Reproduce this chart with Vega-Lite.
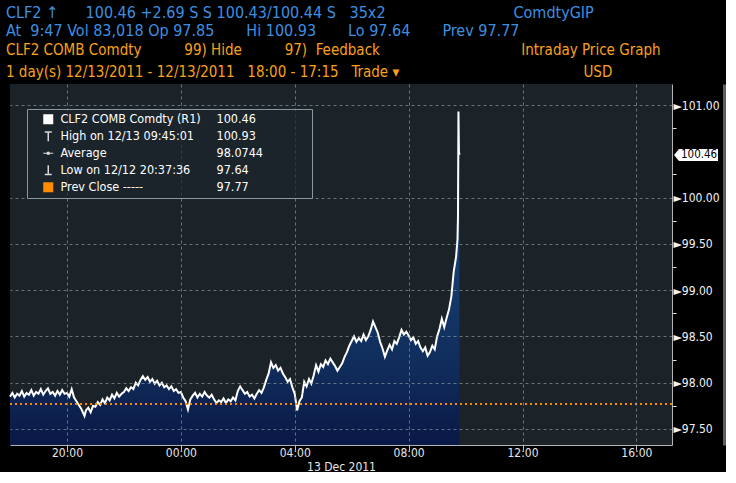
{
"$schema":"https://vega.github.io/schema/vega-lite/v6.json",
"background":"#000000",
"padding":{"left":0,"top":5,"right":0,"bottom":0},
"spacing":0,
"title":{
 "text":["CLF2 ↑\u00a0\u00a0\u00a0\u00a0\u00a0\u00a0100.46 +2.69 S S 100.43/100.44 S\u00a0\u00a0\u00a035x2\u00a0\u00a0\u00a0\u00a0\u00a0\u00a0\u00a0\u00a0\u00a0\u00a0\u00a0\u00a0\u00a0\u00a0\u00a0\u00a0\u00a0\u00a0\u00a0\u00a0\u00a0\u00a0\u00a0\u00a0\u00a0\u00a0\u00a0\u00a0ComdtyGIP","At\u00a0\u00a09:47 Vol 83,018 Op 97.85\u00a0\u00a0\u00a0\u00a0\u00a0\u00a0\u00a0Hi 100.93\u00a0\u00a0\u00a0\u00a0\u00a0\u00a0\u00a0Lo 97.64\u00a0\u00a0\u00a0\u00a0\u00a0\u00a0\u00a0Prev 97.77"],
 "subtitle":["CLF2 COMB Comdty\u00a0\u00a0\u00a0\u00a0\u00a0\u00a0\u00a0\u00a0\u00a0\u00a099) Hide\u00a0\u00a0\u00a0\u00a0\u00a0\u00a0\u00a0\u00a0\u00a0\u00a097)\u00a0\u00a0Feedback\u00a0\u00a0\u00a0\u00a0\u00a0\u00a0\u00a0\u00a0\u00a0\u00a0\u00a0\u00a0\u00a0\u00a0\u00a0\u00a0\u00a0\u00a0\u00a0\u00a0\u00a0\u00a0\u00a0\u00a0\u00a0\u00a0\u00a0\u00a0\u00a0\u00a0\u00a0\u00a0\u00a0Intraday Price Graph","\u00a0\u00a0\u00a0\u00a01 day(s) 12/13/2011 - 12/13/2011\u00a0\u00a0\u00a018:00 - 17:15\u00a0\u00a0\u00a0Trade ▾\u00a0\u00a0\u00a0\u00a0\u00a0\u00a0\u00a0\u00a0\u00a0\u00a0\u00a0\u00a0\u00a0\u00a0\u00a0\u00a0\u00a0\u00a0\u00a0\u00a0\u00a0\u00a0\u00a0\u00a0\u00a0\u00a0\u00a0\u00a0\u00a0\u00a0\u00a0\u00a0\u00a0\u00a0\u00a0\u00a0\u00a0\u00a0\u00a0\u00a0\u00a0\u00a0\u00a0USD"],
 "anchor":"start","dx":6,"color":"#3d8fe0","fontSize":16,"fontWeight":"normal","lineHeight":18,
 "subtitleColor":"#f9a11b","subtitleFontSize":15,"subtitleLineHeight":22,"subtitlePadding":4,"offset":4
},
"config":{"font":"Liberation Sans Narrow, DejaVu Sans Condensed, Roboto, sans-serif","view":{"stroke":null}},
"datasets":{
"px":[
{"t":"2011-12-12T18:00","p":97.85},{"t":"2011-12-12T18:05","p":97.89},{"t":"2011-12-12T18:10","p":97.84},{"t":"2011-12-12T18:15","p":97.88},{"t":"2011-12-12T18:20","p":97.86},{"t":"2011-12-12T18:25","p":97.91},{"t":"2011-12-12T18:30","p":97.85},{"t":"2011-12-12T18:35","p":97.89},{"t":"2011-12-12T18:40","p":97.87},{"t":"2011-12-12T18:45","p":97.92},{"t":"2011-12-12T18:50","p":97.86},{"t":"2011-12-12T18:55","p":97.90},
{"t":"2011-12-12T19:00","p":97.88},{"t":"2011-12-12T19:05","p":97.93},{"t":"2011-12-12T19:10","p":97.87},{"t":"2011-12-12T19:15","p":97.91},{"t":"2011-12-12T19:20","p":97.94},{"t":"2011-12-12T19:25","p":97.88},{"t":"2011-12-12T19:30","p":97.90},{"t":"2011-12-12T19:35","p":97.86},{"t":"2011-12-12T19:40","p":97.91},{"t":"2011-12-12T19:45","p":97.87},{"t":"2011-12-12T19:50","p":97.92},{"t":"2011-12-12T19:55","p":97.88},
{"t":"2011-12-12T20:00","p":97.89},{"t":"2011-12-12T20:05","p":97.85},{"t":"2011-12-12T20:10","p":97.93},{"t":"2011-12-12T20:15","p":97.84},{"t":"2011-12-12T20:20","p":97.80},{"t":"2011-12-12T20:25","p":97.76},{"t":"2011-12-12T20:30","p":97.72},{"t":"2011-12-12T20:37","p":97.64},{"t":"2011-12-12T20:40","p":97.70},{"t":"2011-12-12T20:45","p":97.73},{"t":"2011-12-12T20:50","p":97.68},{"t":"2011-12-12T20:55","p":97.75},
{"t":"2011-12-12T21:00","p":97.74},{"t":"2011-12-12T21:05","p":97.79},{"t":"2011-12-12T21:10","p":97.76},{"t":"2011-12-12T21:15","p":97.82},{"t":"2011-12-12T21:20","p":97.78},{"t":"2011-12-12T21:25","p":97.84},{"t":"2011-12-12T21:30","p":97.81},{"t":"2011-12-12T21:35","p":97.87},{"t":"2011-12-12T21:40","p":97.83},{"t":"2011-12-12T21:45","p":97.89},{"t":"2011-12-12T21:50","p":97.85},{"t":"2011-12-12T21:55","p":97.88},
{"t":"2011-12-12T22:00","p":97.90},{"t":"2011-12-12T22:05","p":97.94},{"t":"2011-12-12T22:10","p":97.91},{"t":"2011-12-12T22:15","p":97.95},{"t":"2011-12-12T22:20","p":97.93},{"t":"2011-12-12T22:25","p":98.00},{"t":"2011-12-12T22:30","p":97.97},{"t":"2011-12-12T22:35","p":98.03},{"t":"2011-12-12T22:40","p":98.07},{"t":"2011-12-12T22:45","p":98.03},{"t":"2011-12-12T22:50","p":98.06},{"t":"2011-12-12T22:55","p":98.01},
{"t":"2011-12-12T23:00","p":98.04},{"t":"2011-12-12T23:05","p":97.99},{"t":"2011-12-12T23:10","p":98.02},{"t":"2011-12-12T23:15","p":97.97},{"t":"2011-12-12T23:20","p":98.00},{"t":"2011-12-12T23:25","p":97.95},{"t":"2011-12-12T23:30","p":97.97},{"t":"2011-12-12T23:35","p":97.93},{"t":"2011-12-12T23:40","p":97.96},{"t":"2011-12-12T23:45","p":97.91},{"t":"2011-12-12T23:50","p":97.93},{"t":"2011-12-12T23:55","p":97.89},
{"t":"2011-12-13T00:00","p":97.90},{"t":"2011-12-13T00:05","p":97.84},{"t":"2011-12-13T00:10","p":97.80},{"t":"2011-12-13T00:15","p":97.71},{"t":"2011-12-13T00:20","p":97.82},{"t":"2011-12-13T00:25","p":97.86},{"t":"2011-12-13T00:30","p":97.89},{"t":"2011-12-13T00:35","p":97.84},{"t":"2011-12-13T00:40","p":97.88},{"t":"2011-12-13T00:45","p":97.85},{"t":"2011-12-13T00:50","p":97.90},{"t":"2011-12-13T00:55","p":97.86},
{"t":"2011-12-13T01:00","p":97.84},{"t":"2011-12-13T01:05","p":97.87},{"t":"2011-12-13T01:10","p":97.82},{"t":"2011-12-13T01:15","p":97.78},{"t":"2011-12-13T01:20","p":97.81},{"t":"2011-12-13T01:25","p":97.79},{"t":"2011-12-13T01:30","p":97.83},{"t":"2011-12-13T01:35","p":97.78},{"t":"2011-12-13T01:40","p":97.82},{"t":"2011-12-13T01:45","p":97.80},{"t":"2011-12-13T01:50","p":97.84},{"t":"2011-12-13T01:55","p":97.81},
{"t":"2011-12-13T02:00","p":97.91},{"t":"2011-12-13T02:05","p":97.96},{"t":"2011-12-13T02:10","p":97.92},{"t":"2011-12-13T02:15","p":97.88},{"t":"2011-12-13T02:20","p":97.90},{"t":"2011-12-13T02:25","p":97.85},{"t":"2011-12-13T02:30","p":97.87},{"t":"2011-12-13T02:35","p":97.83},{"t":"2011-12-13T02:40","p":97.88},{"t":"2011-12-13T02:45","p":97.92},{"t":"2011-12-13T02:50","p":97.89},{"t":"2011-12-13T02:55","p":97.95},
{"t":"2011-12-13T03:00","p":98.03},{"t":"2011-12-13T03:05","p":98.10},{"t":"2011-12-13T03:10","p":98.22},{"t":"2011-12-13T03:15","p":98.16},{"t":"2011-12-13T03:20","p":98.19},{"t":"2011-12-13T03:25","p":98.13},{"t":"2011-12-13T03:30","p":98.16},{"t":"2011-12-13T03:35","p":98.10},{"t":"2011-12-13T03:40","p":98.06},{"t":"2011-12-13T03:45","p":98.01},{"t":"2011-12-13T03:50","p":98.04},{"t":"2011-12-13T03:55","p":97.95},
{"t":"2011-12-13T04:00","p":97.88},{"t":"2011-12-13T04:05","p":97.70},{"t":"2011-12-13T04:10","p":97.80},{"t":"2011-12-13T04:15","p":97.84},{"t":"2011-12-13T04:20","p":98.01},{"t":"2011-12-13T04:25","p":97.96},{"t":"2011-12-13T04:30","p":98.04},{"t":"2011-12-13T04:35","p":97.99},{"t":"2011-12-13T04:40","p":98.08},{"t":"2011-12-13T04:45","p":98.19},{"t":"2011-12-13T04:50","p":98.12},{"t":"2011-12-13T04:55","p":98.20},
{"t":"2011-12-13T05:00","p":98.17},{"t":"2011-12-13T05:05","p":98.24},{"t":"2011-12-13T05:10","p":98.20},{"t":"2011-12-13T05:15","p":98.26},{"t":"2011-12-13T05:20","p":98.22},{"t":"2011-12-13T05:25","p":98.18},{"t":"2011-12-13T05:30","p":98.13},{"t":"2011-12-13T05:35","p":98.17},{"t":"2011-12-13T05:40","p":98.21},{"t":"2011-12-13T05:45","p":98.28},{"t":"2011-12-13T05:50","p":98.33},{"t":"2011-12-13T05:55","p":98.40},
{"t":"2011-12-13T06:00","p":98.45},{"t":"2011-12-13T06:05","p":98.50},{"t":"2011-12-13T06:10","p":98.44},{"t":"2011-12-13T06:15","p":98.48},{"t":"2011-12-13T06:20","p":98.45},{"t":"2011-12-13T06:25","p":98.52},{"t":"2011-12-13T06:30","p":98.46},{"t":"2011-12-13T06:35","p":98.50},{"t":"2011-12-13T06:40","p":98.57},{"t":"2011-12-13T06:45","p":98.66},{"t":"2011-12-13T06:50","p":98.60},{"t":"2011-12-13T06:55","p":98.54},
{"t":"2011-12-13T07:00","p":98.44},{"t":"2011-12-13T07:05","p":98.37},{"t":"2011-12-13T07:10","p":98.28},{"t":"2011-12-13T07:15","p":98.35},{"t":"2011-12-13T07:20","p":98.41},{"t":"2011-12-13T07:25","p":98.36},{"t":"2011-12-13T07:30","p":98.45},{"t":"2011-12-13T07:35","p":98.42},{"t":"2011-12-13T07:40","p":98.49},{"t":"2011-12-13T07:45","p":98.57},{"t":"2011-12-13T07:50","p":98.52},{"t":"2011-12-13T07:55","p":98.55},
{"t":"2011-12-13T08:00","p":98.51},{"t":"2011-12-13T08:05","p":98.46},{"t":"2011-12-13T08:10","p":98.49},{"t":"2011-12-13T08:15","p":98.42},{"t":"2011-12-13T08:20","p":98.45},{"t":"2011-12-13T08:25","p":98.38},{"t":"2011-12-13T08:30","p":98.34},{"t":"2011-12-13T08:35","p":98.38},{"t":"2011-12-13T08:40","p":98.29},{"t":"2011-12-13T08:45","p":98.33},{"t":"2011-12-13T08:50","p":98.40},{"t":"2011-12-13T08:55","p":98.36},
{"t":"2011-12-13T09:00","p":98.50},{"t":"2011-12-13T09:05","p":98.58},{"t":"2011-12-13T09:10","p":98.69},{"t":"2011-12-13T09:15","p":98.60},{"t":"2011-12-13T09:20","p":98.70},{"t":"2011-12-13T09:25","p":98.79},{"t":"2011-12-13T09:30","p":98.93},{"t":"2011-12-13T09:35","p":99.20},{"t":"2011-12-13T09:40","p":99.36},{"t":"2011-12-13T09:43","p":99.55},{"t":"2011-12-13T09:44","p":99.80},{"t":"2011-12-13T09:45","p":100.93},{"t":"2011-12-13T09:46","p":100.50},{"t":"2011-12-13T09:47","p":100.46}
],
"stats":[
{"n":"CLF2 COMB Comdty (R1)","lab":"100.46","v":100.46},
{"n":"High on 12/13 09:45:01","lab":"100.93","v":100.93},
{"n":"Average","lab":"98.0744","v":98.0744},
{"n":"Low on 12/12 20:37:36","lab":"97.64","v":97.64},
{"n":"Prev Close -----","lab":"97.77","v":97.77}
]
},
"vconcat":[
{
"width":662,"height":361,
"view":{"stroke":null,"fill":"#1b2328"},
"resolve":{"axis":{"y":"independent"}},
"layer":[
{"data":{"name":"px"},
 "mark":{"type":"area","color":{"gradient":"linear","x1":0,"y1":0,"x2":0,"y2":1,"stops":[{"offset":0,"color":"#22528a"},{"offset":0.55,"color":"#14386a"},{"offset":0.8,"color":"#0f2a58"},{"offset":1,"color":"#0a1846"}]}},
 "encoding":{
  "x":{"field":"t","type":"temporal",
   "scale":{"domain":[{"year":2011,"month":12,"date":12,"hours":18,"minutes":0},{"year":2011,"month":12,"date":13,"hours":17,"minutes":15}]},
   "axis":{"values":[{"year":2011,"month":12,"date":12,"hours":20},{"year":2011,"month":12,"date":13,"hours":0},{"year":2011,"month":12,"date":13,"hours":4},{"year":2011,"month":12,"date":13,"hours":8},{"year":2011,"month":12,"date":13,"hours":12},{"year":2011,"month":12,"date":13,"hours":16}],
    "format":"%H:%M",
    "labelColor":"#e6e6e6","labelFontSize":12,"labelPadding":-3,
    "tickSize":5,"tickColor":"#c8c8c8","domainColor":"#b4b4b4",
    "grid":true,"gridDash":[3,3],"gridColor":"#a0a8ac","gridOpacity":0.6,
    "title":"13 Dec 2011","titleColor":"#e6e6e6","titleFontSize":12,"titleFontWeight":"normal","titlePadding":3,"zindex":1}},
  "y":{"field":"p","type":"quantitative",
   "scale":{"domain":[97.327,101.227],"nice":false,"zero":false},
   "axis":{"orient":"right","values":[97.5,98,98.5,99,99.5,100,101],
    "labelExpr":"'►' + format(datum.value, '.2f')",
    "labelColor":"#f2f2f2","labelFontSize":12,"labelPadding":1,
    "tickSize":0,
    "domainColor":"#b4b4b4",
    "grid":true,"gridDash":[3,3],"gridColor":"#a0a8ac","gridOpacity":0.6,
    "title":null,"minExtent":50,"maxExtent":50,"zindex":1}},
  "y2":{"datum":97.327}
 }},
{"data":{"name":"px"},
 "mark":{"type":"line","color":"#ffffff","strokeWidth":2},
 "encoding":{"x":{"field":"t","type":"temporal"},"y":{"field":"p","type":"quantitative","scale":{"domain":[97.327,101.227],"nice":false,"zero":false},"axis":null}}},
{"data":{"name":"stats"},
 "transform":[{"filter":"datum.n == 'Prev Close -----'"}],
 "mark":{"type":"rule","color":"#ff8a00","strokeWidth":2,"strokeDash":[2,3]},
 "encoding":{"y":{"field":"v","type":"quantitative","scale":{"domain":[97.327,101.227],"nice":false,"zero":false},
  "axis":{"orient":"left","domain":false,"ticks":false,"labels":false,"grid":false,"title":null,"minExtent":10,"maxExtent":10}}}},
{"data":{"name":"stats"},
 "mark":{"type":"point","filled":true,"opacity":0},
 "encoding":{
  "y":{"field":"v","type":"quantitative","scale":{"domain":[97.327,101.227],"nice":false,"zero":false},"axis":null},
  "color":{"field":"n","type":"nominal","scale":{"domain":["CLF2 COMB Comdty (R1)","High on 12/13 09:45:01","Average","Low on 12/12 20:37:36","Prev Close -----"],"range":["#ffffff","#d8d8d8","#d8d8d8","#d8d8d8","#ff8c00"]},
   "legend":{"title":null,"orient":"none","legendX":17,"legendY":25,"direction":"vertical","fillColor":"rgba(28,38,43,0.75)","strokeColor":"#8b979c","padding":4,"symbolOffset":11,"symbolSize":100,"symbolStrokeWidth":0,"symbolOpacity":1,"labelColor":"#ffffff","labelFontSize":12.5,"labelOffset":6,"rowPadding":4,"labelLimit":400,"labelExpr":"datum.label + '\u2800\u2800\u2800\u2800\u2800\u2800\u2800\u2800\u2800\u2800\u2800\u2800\u2800'"}},
  "shape":{"field":"n","type":"nominal","scale":{"domain":["CLF2 COMB Comdty (R1)","High on 12/13 09:45:01","Average","Low on 12/12 20:37:36","Prev Close -----"],"range":["square","M-0.7,-1L0.7,-1L0.7,-0.7L0.15,-0.7L0.15,1L-0.15,1L-0.15,-0.7L-0.7,-0.7Z","M-1,-0.1L1,-0.1L1,0.1L-1,0.1Z M0.35,0A0.35,0.35 0 1 1 -0.35,0A0.35,0.35 0 1 1 0.35,0Z","M-0.15,-1L0.15,-1L0.15,0.7L0.7,0.7L0.7,1L-0.7,1L-0.7,0.7L-0.15,0.7Z","square"]},
   "legend":{"title":null,"orient":"none","legendX":17,"legendY":25,"direction":"vertical","fillColor":"rgba(28,38,43,0.75)","strokeColor":"#8b979c","padding":4,"symbolOffset":11,"symbolSize":100,"symbolStrokeWidth":0,"symbolOpacity":1,"labelColor":"#ffffff","labelFontSize":12.5,"labelOffset":6,"rowPadding":4,"labelLimit":400,"labelExpr":"datum.label + '\u2800\u2800\u2800\u2800\u2800\u2800\u2800\u2800\u2800\u2800\u2800\u2800\u2800'"}}
 }},
{"data":{"name":"stats"},
 "mark":{"type":"rule","opacity":0},
 "encoding":{
  "y":{"field":"v","type":"quantitative","scale":{"domain":[97.327,101.227],"nice":false,"zero":false},
   "axis":{"orient":"right","values":[97.75,98.25,98.75,99.25,99.75,100.25,100.75],"domain":false,"labels":false,"grid":false,"ticks":true,"tickSize":4,"tickColor":"#dddddd","title":null}},
  "strokeDash":{"field":"lab","type":"nominal","scale":{"domain":["100.46","100.93","98.0744","97.64","97.77"]},
   "legend":{"title":null,"orient":"none","legendX":188,"legendY":25,"direction":"vertical","padding":4,"symbolOffset":0,"symbolSize":100,"symbolOpacity":0,"symbolStrokeWidth":0,"labelColor":"#ffffff","labelFontSize":12.5,"labelOffset":2,"rowPadding":4}}
 }},
{"data":{"name":"stats"},
 "transform":[{"filter":"datum.n == 'CLF2 COMB Comdty (R1)'"}],
 "mark":{"type":"point","shape":"M0.2,0L0.7,-0.6L4.6,-0.6L4.6,0.6L0.7,0.6Z","size":400,"filled":true,"fill":"#ffffff","opacity":1,"strokeWidth":0},
 "encoding":{
  "x":{"datum":{"year":2011,"month":12,"date":13,"hours":17,"minutes":15},"type":"temporal"},
  "y":{"field":"v","type":"quantitative","scale":{"domain":[97.327,101.227],"nice":false,"zero":false},
   "axis":{"orient":"right","offset":54,"domainWidth":7,"domainColor":"#5e5e5e","ticks":false,"labels":false,"grid":false,"title":null}}}},
{"data":{"name":"stats"},
 "transform":[{"filter":"datum.n == 'CLF2 COMB Comdty (R1)'"}],
 "mark":{"type":"text","align":"left","baseline":"middle","dx":9,"fontSize":11.5,"color":"#000000"},
 "encoding":{
  "x":{"datum":{"year":2011,"month":12,"date":13,"hours":17,"minutes":15},"type":"temporal"},
  "y":{"field":"v","type":"quantitative","scale":{"domain":[97.327,101.227],"nice":false,"zero":false},"axis":null},
  "text":{"field":"lab"}}}
]
}
]
}
